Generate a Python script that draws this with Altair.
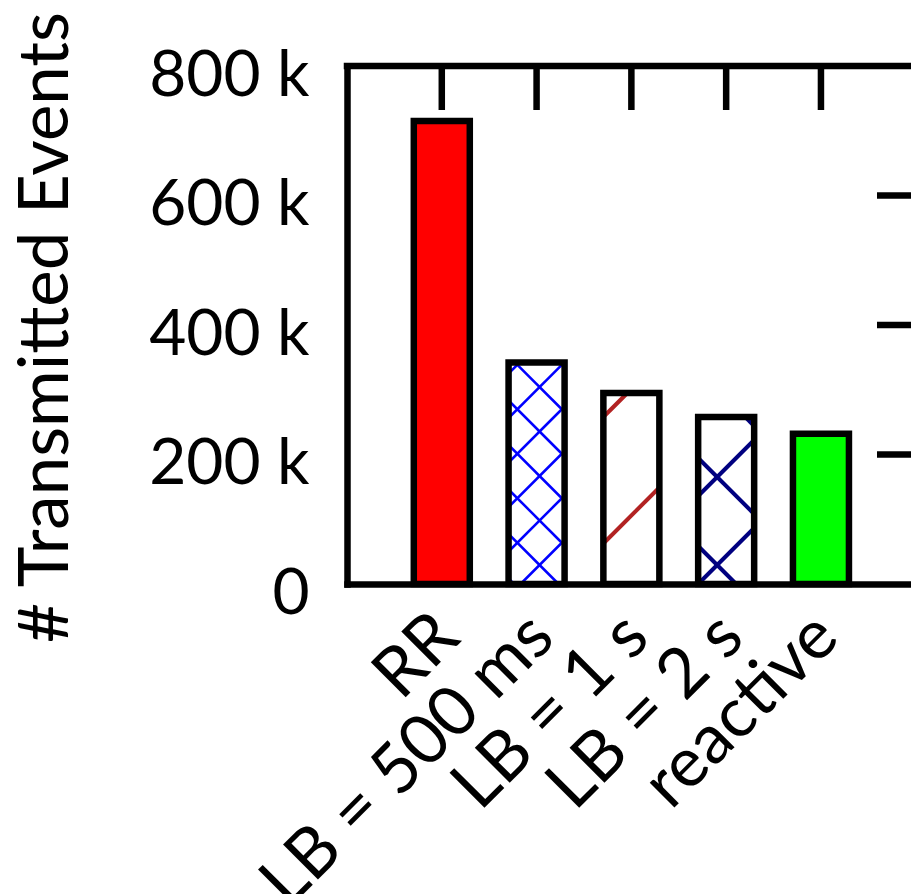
import altair as alt
import pandas as pd

# ---------------- data ----------------
categories = ["RR", "LB = 500 ms", "LB = 1 s", "LB = 2 s", "reactive"]
events = [715000, 342000, 295000, 258000, 232000]
fill_colors = ["#ff0000", "#ffffff", "#ffffff", "#ffffff", "#00ff00"]
y_ticks = [0, 200000, 400000, 600000, 800000]

# hatch styles per bar: (directions, vertical period px, phase anchor y px in plot, color, width)
hatch_dirs = [[], ["/", "\\"], ["/"], ["/", "\\"], []]
hatch_period = [0, 44.5, 126.5, 88, 0]
hatch_anchor_dx = [0, 3, 0, -9, 0]
hatch_anchor_y = [0, 499, 449.5, 499, 0]
hatch_color = ["#000000", "#0000ff", "#b22222", "#000080", "#000000"]
hatch_width = [0, 2.5, 4, 4, 0]

# ---------------- layout ----------------
W, H = 564, 518
XMIN, XMAX = -1, 4.95
YMAX = 800000
PX_X = W / (XMAX - XMIN)
PX_Y = H / YMAX
BAR_HALF_PX = 28
LW = 6.5
FONT = "Lato"

pos = list(range(len(categories)))
bars = pd.DataFrame({
    "cat": categories,
    "pos": pos,
    "x0": [p - BAR_HALF_PX / PX_X for p in pos],
    "x1": [p + BAR_HALF_PX / PX_X for p in pos],
    "v": events,
    "fill": fill_colors,
})

# hatch segments clipped to each bar (pixel geometry -> data units)
rows = []
for i, p in enumerate(pos):
    if not hatch_dirs[i]:
        continue
    cx = (p - XMIN) * PX_X
    x0, x1 = cx - BAR_HALF_PX, cx + BAR_HALF_PX
    y0, y1 = H - events[i] * PX_Y, H
    ax, ay = cx + hatch_anchor_dx[i], hatch_anchor_y[i]
    P = hatch_period[i]
    for d in hatch_dirs[i]:
        for k in range(-40, 41):
            if d == "/":
                b = ay + ax + k * P  # y = -x + b
                xa, xb = max(x0, b - y1), min(x1, b - y0)
                f = lambda x, b=b: -x + b
            else:
                b = ay - ax + k * P  # y = x + b
                xa, xb = max(x0, y0 - b), min(x1, y1 - b)
                f = lambda x, b=b: x + b
            if xb - xa > 0.5:
                rows.append({
                    "hx": XMIN + xa / PX_X, "hx2": XMIN + xb / PX_X,
                    "hy": (H - f(xa)) / PX_Y, "hy2": (H - f(xb)) / PX_Y,
                    "col": hatch_color[i], "w": hatch_width[i],
                })
hatch = pd.DataFrame(rows)

xscale = alt.Scale(domain=[XMIN, XMAX], nice=False, zero=False)
yscale = alt.Scale(domain=[0, YMAX], nice=False)

label_expr = "[" + ",".join("'%s'" % c for c in categories) + "][datum.value]"
xaxis = alt.Axis(
    values=pos, labelExpr=label_expr, title="", ticks=False, grid=False,
    domainColor="black", domainWidth=LW, domainCap="square",
    labelFont=FONT, labelFontSize=69, labelColor="black",
    labelAngle=315, labelAlign="right", labelBaseline="alphabetic",
    labelPadding=56, labelOffset=20, labelOverlap=False, labelBound=False,
    labelLimit=2000,
)
yaxis = alt.Axis(
    values=y_ticks, labelExpr="datum.value == 0 ? '0' : (datum.value / 1000) + ' k'",
    title="# Transmitted Events", titleFont=FONT, titleFontSize=69,
    titleFontWeight="normal", titleColor="black", titleAngle=270,
    titleX=-280, titleY=261, titleAlign="center", titleBaseline="alphabetic",
    titleLimit=2000,
    ticks=False, grid=False, domainColor="black", domainWidth=LW, domainCap="square",
    labelFont=FONT, labelFontSize=64, labelColor="black", labelPadding=38,
    labelOffset=10,
)

X = lambda f: alt.X(f, type="quantitative", scale=xscale, axis=xaxis)
Y = lambda f: alt.Y(f, type="quantitative", scale=yscale, axis=yaxis)

fills = alt.Chart(bars).mark_rect(strokeWidth=0).encode(
    x=X("x0"), x2="x1", y=Y("v"), y2=alt.datum(0),
    fill=alt.Fill("fill:N", scale=None),
)

hatches = alt.Chart(hatch).mark_rule(strokeCap="butt").encode(
    x=X("hx"), x2="hx2", y=Y("hy"), y2="hy2",
    color=alt.Color("col:N", scale=None),
    strokeWidth=alt.StrokeWidth("w:Q", scale=None),
)

outlines = alt.Chart(bars).mark_rect(
    fill="transparent", stroke="black", strokeWidth=LW, strokeJoin="miter"
).encode(x=X("x0"), x2="x1", y=Y("v"), y2=alt.datum(0))

top_border = alt.Chart(pd.DataFrame({"a": [XMIN], "b": [XMAX], "y": [YMAX]})).mark_rule(
    color="black", strokeWidth=LW, strokeCap="square"
).encode(x=X("a"), x2="b", y=Y("y"))

top_ticks = alt.Chart(pd.DataFrame({
    "p": pos, "y": [YMAX] * len(pos), "y2": [YMAX - 44 / PX_Y] * len(pos)
})).mark_rule(color="black", strokeWidth=LW).encode(x=X("p"), y=Y("y"), y2="y2")

right_ticks = alt.Chart(pd.DataFrame({
    "a": [XMAX - 34 / PX_X] * 3, "b": [XMAX] * 3, "y": y_ticks[1:4]
})).mark_rule(color="black", strokeWidth=LW).encode(x=X("a"), x2="b", y=Y("y"))

chart = alt.layer(fills, hatches, outlines, top_border, top_ticks, right_ticks).properties(
    width=W, height=H,
    autosize=alt.AutoSizeParams(type="none"),
    padding={"left": 347, "top": 66, "right": 0, "bottom": 894 - 66 - H},
    background="white",
).configure_view(strokeWidth=0)

chart.save("out.html", embed_options={"renderer": "svg", "actions": False})
